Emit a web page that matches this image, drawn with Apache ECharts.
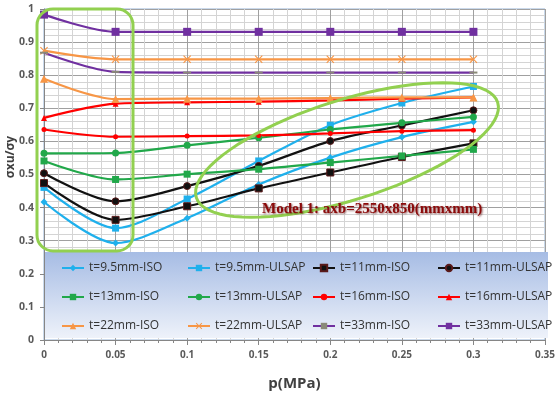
<!DOCTYPE html>
<html><head><meta charset="utf-8">
<script src="https://cdn.jsdelivr.net/npm/echarts@6/dist/echarts.min.js"></script>
<style>html,body{margin:0;padding:0;background:#fff}#c{width:558px;height:396px}</style>
</head><body><div id="c"></div>
<script>
// ---- data ----
var p = [0, 0.05, 0.1, 0.15, 0.2, 0.25, 0.3];
var xTickLabels = ['0','0.05','0.1','0.15','0.2','0.25','0.3','0.35'];
var yTickLabels = ['0','0.1','0.2','0.3','0.4','0.5','0.6','0.7','0.8','0.9','1'];
var seriesNames = ['t=9.5mm-ISO','t=9.5mm-ULSAP','t=11mm-ISO','t=11mm-ULSAP','t=13mm-ISO','t=13mm-ULSAP','t=16mm-ISO','t=16mm-ULSAP','t=22mm-ISO','t=22mm-ULSAP','t=33mm-ISO','t=33mm-ULSAP'];
var t9_5_ISO   = [0.417, 0.293, 0.368, 0.470, 0.551, 0.613, 0.659];
var t9_5_ULSAP = [0.461, 0.338, 0.426, 0.541, 0.649, 0.716, 0.766];
var t11_ISO    = [0.474, 0.363, 0.404, 0.458, 0.506, 0.553, 0.594];
var t11_ULSAP  = [0.504, 0.419, 0.465, 0.526, 0.601, 0.648, 0.694];
var t13_ISO    = [0.541, 0.485, 0.501, 0.516, 0.536, 0.556, 0.576];
var t13_ULSAP  = [0.564, 0.565, 0.588, 0.611, 0.636, 0.656, 0.674];
var t16_ISO    = [0.636, 0.614, 0.616, 0.618, 0.624, 0.631, 0.634];
var t16_ULSAP  = [0.671, 0.714, 0.718, 0.720, 0.724, 0.729, 0.733];
var t22_ISO    = [0.789, 0.728, 0.729, 0.729, 0.731, 0.733, 0.733];
var t22_ULSAP  = [0.874, 0.848, 0.848, 0.848, 0.848, 0.848, 0.848];
var t33_ISO    = [0.868, 0.810, 0.808, 0.808, 0.808, 0.808, 0.808];
var t33_ULSAP  = [0.983, 0.931, 0.931, 0.931, 0.931, 0.931, 0.931];
var annotation = 'Model 1: axb=2550x850(mmxmm)';
var yTitle = 'σxu/σy';
var xTitle = 'p(MPa)';

// ---- styles ----
var BLUE='#1fb0ec', GREEN='#21a84a', RED='#ff0000', ORANGE='#f79646', PURPLE='#7030a0', BLACK='#111111';
var XPATH='path://M1,0 L5,4 L9,0 L10,1 L6,5 L10,9 L9,10 L5,6 L1,10 L0,9 L4,5 L0,1 Z';
var styles = [
  {c:BLUE, s:'diamond', z:7},
  {c:BLUE, s:'rect', z:7},
  {c:BLACK, s:'rect', z:7, b:'#5a1a1a'},
  {c:BLACK, s:'circle', z:7, b:'#5a1a1a'},
  {c:GREEN, s:'rect', z:7},
  {c:GREEN, s:'circle', z:7},
  {c:RED, s:'circle', z:5},
  {c:RED, s:'triangle', z:6},
  {c:ORANGE, s:'triangle', z:8},
  {c:ORANGE, s:XPATH, z:8},
  {c:PURPLE, s:'rect', z:[8,2], mc:'#8a8a78'},
  {c:PURPLE, s:'rect', z:8}
];
var values = [t9_5_ISO,t9_5_ULSAP,t11_ISO,t11_ULSAP,t13_ISO,t13_ULSAP,t16_ISO,t16_ULSAP,t22_ISO,t22_ULSAP,t33_ISO,t33_ULSAP];

var series = values.map(function(v,i){
  var st = styles[i];
  return {
    name: seriesNames[i], type:'line', smooth:0.3,
    data: p.map(function(x,j){return [x, v[j]];}),
    symbol: st.s, symbolSize: st.z, showSymbol:true,
    lineStyle:{color:st.c, width:2.2},
    itemStyle:{color: st.mc || st.c, borderColor: st.b || (st.mc||st.c), borderWidth: st.b?1:0},
    z: 3
  };
});

function legendCol(left, names){
  return {
    orient:'vertical', left:left, top:256, itemGap:15, itemWidth:22, itemHeight:8,
    data:names, z:5, selectedMode:false,
    textStyle:{fontFamily:'Open Sans', fontSize:12, color:'#333', lineHeight:14}
  };
}

// ellipse annotation points (annotation shape, not data)
var ell = [];
(function(){
  var cx=347, cy=150, a=158, b=50, th=-17.5*Math.PI/180;
  for(var k=0;k<80;k++){
    var t=2*Math.PI*k/80, u=a*Math.cos(t), w=b*Math.sin(t);
    ell.push([cx+u*Math.cos(th)-w*Math.sin(th), cy+u*Math.sin(th)+w*Math.cos(th)]);
  }
})();

var chart = echarts.init(document.getElementById('c'), null, {renderer:'canvas'});
chart.setOption({
  animation:false,
  backgroundColor:'#ffffff',
  grid:{left:44, right:9, top:9, bottom:54, show:true, borderColor:'#95b3d7', borderWidth:1},
  xAxis:{
    type:'value', min:0, max:0.35, interval:0.05,
    name:xTitle, nameLocation:'middle', nameGap:36,
    nameTextStyle:{fontFamily:'Open Sans', fontWeight:'bold', fontSize:15, color:'#404040'},
    axisLine:{show:true, lineStyle:{color:'#868686'}},
    axisTick:{show:true, length:5, lineStyle:{color:'#868686'}},
    minorTick:{show:true, splitNumber:5, length:3, lineStyle:{color:'#868686'}},
    axisLabel:{fontFamily:'Open Sans', fontWeight:'bold', fontSize:10, color:'#595959', margin:10,
      formatter:function(v){return xTickLabels[Math.round(v/0.05)];}},
    splitLine:{show:true, lineStyle:{color:'#a0a0a0', width:1}},
    minorSplitLine:{show:true, lineStyle:{color:'#d4d4d4', width:1}}
  },
  yAxis:{
    type:'value', min:0, max:1, interval:0.1,
    axisLine:{show:true, lineStyle:{color:'#868686'}},
    axisTick:{show:true, length:4, lineStyle:{color:'#868686'}},
    minorTick:{show:false, splitNumber:5},
    axisLabel:{fontFamily:'Open Sans', fontWeight:'bold', fontSize:10.5, color:'#595959', margin:10,
      formatter:function(v){return yTickLabels[Math.round(v/0.1)];}},
    splitLine:{show:true, lineStyle:{color:'#a0a0a0', width:1}},
    minorSplitLine:{show:true, lineStyle:{color:'#d4d4d4', width:1}}
  },
  legend:[
    legendCol(56, [seriesNames[0], seriesNames[4], seriesNames[8]]),
    legendCol(182, [seriesNames[1], seriesNames[5], seriesNames[9]]),
    legendCol(307, [seriesNames[2], seriesNames[6], seriesNames[10]]),
    legendCol(432, [seriesNames[3], seriesNames[7], seriesNames[11]])
  ],
  graphic:[
    {type:'rect', left:45, top:252, z:1, shape:{width:503, height:86},
     style:{fill:new echarts.graphic.LinearGradient(0,0,0,1,[{offset:0,color:'#a6bce4'},{offset:1,color:'#eef2fa'}])}},
    {type:'rect', z:20, shape:{x:37, y:9, width:96, height:242, r:16},
     style:{fill:'none', stroke:'#92d050', lineWidth:3}},
    {type:'polygon', z:20, shape:{points:ell},
     style:{fill:'none', stroke:'#92d050', lineWidth:3}},
    {type:'text', z:21, left:262, top:202,
     style:{text:annotation, fill:'#8b0a0a', font:'bold 15px "Liberation Serif"',
            textShadowColor:'rgba(80,0,0,0.6)', textShadowBlur:2, textShadowOffsetX:1, textShadowOffsetY:1}},
    {type:'text', z:21, x:5, y:157, rotation:Math.PI/2,
     style:{text:yTitle, fill:'#404040', font:'bold 12px "Open Sans"', align:'center', verticalAlign:'top'}}
  ],
  series: series
});
</script>
</body></html>
